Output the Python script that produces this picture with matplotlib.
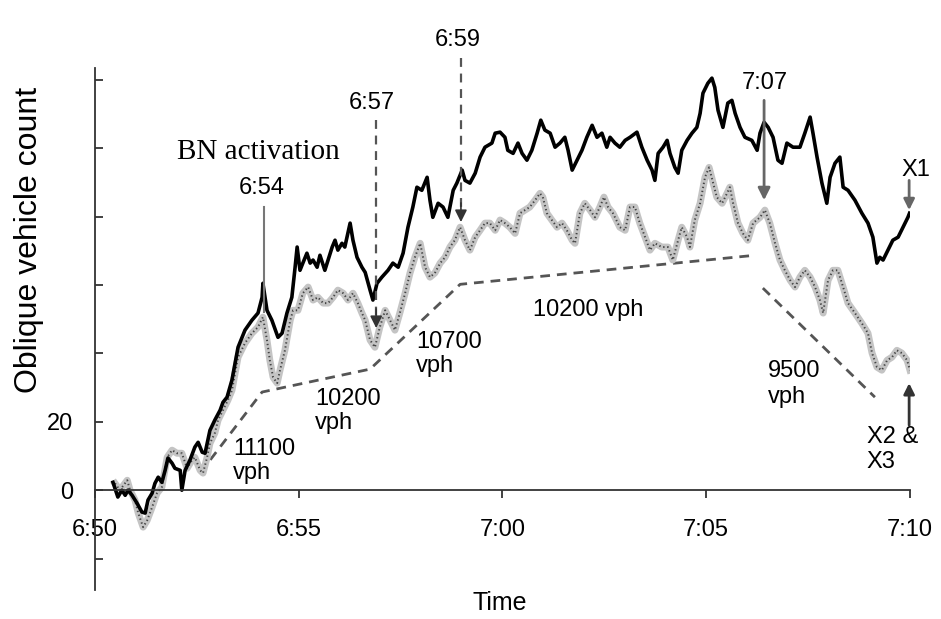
import matplotlib.pyplot as plt

plt.rcParams['font.family'] = ['Liberation Sans', 'DejaVu Sans']

# x axis: minutes after 6:50
time_ticks = [0, 5, 10, 15, 20]
time_labels = ['6:50', '6:55', '7:00', '7:05', '7:10']
count_ticks = [-20, 0, 20, 40, 60, 80, 100, 120]
count_labels = ['', '0', '20', '', '', '', '', '']

# X1 (black)
x1_t = [0.44, 0.56, 0.66, 0.74, 0.81, 0.91, 1.03, 1.15, 1.23, 1.30, 1.40, 1.47, 1.55, 1.64,
        1.72, 1.79, 1.89, 1.96, 2.09, 2.13, 2.21, 2.33, 2.45, 2.53, 2.63, 2.70, 2.82, 2.94,
        3.07, 3.14, 3.24, 3.36, 3.51, 3.68, 3.85, 4.00, 4.10, 4.12, 4.22, 4.34, 4.49, 4.59,
        4.71, 4.83, 4.91, 4.96, 5.03, 5.10, 5.20, 5.28, 5.35, 5.45, 5.52, 5.64, 5.72, 5.82,
        5.89, 5.96, 6.06, 6.13, 6.26, 6.33, 6.43, 6.55, 6.63, 6.75, 6.82, 6.92, 7.04, 7.19,
        7.31, 7.44, 7.56, 7.68, 7.80, 7.90, 8.02, 8.15, 8.22, 8.29, 8.42, 8.54, 8.66, 8.79,
        8.88, 9.01, 9.08, 9.20, 9.33, 9.45, 9.57, 9.74, 9.82, 9.94, 10.06, 10.13, 10.26,
        10.38, 10.48, 10.60, 10.72, 10.85, 10.94, 11.04, 11.17, 11.29, 11.41, 11.53, 11.61,
        11.71, 11.83, 11.95, 12.07, 12.20, 12.32, 12.44, 12.56, 12.64, 12.76, 12.88, 13.01,
        13.13, 13.30, 13.42, 13.55, 13.67, 13.74, 13.82, 13.94, 14.04, 14.11, 14.23, 14.31,
        14.40, 14.53, 14.65, 14.77, 14.85, 14.92, 15.04, 15.14, 15.21, 15.29, 15.41, 15.53,
        15.63, 15.71, 15.83, 15.95, 16.12, 16.25, 16.32, 16.42, 16.52, 16.64, 16.76, 16.86,
        16.98, 17.13, 17.30, 17.42, 17.55, 17.62, 17.72, 17.84, 17.96, 18.04, 18.16, 18.28,
        18.36, 18.48, 18.65, 18.82, 18.97, 19.09, 19.19, 19.26, 19.34, 19.46, 19.58, 19.71,
        19.83, 19.95, 19.99]
x1_n = [2.3, -2.0, 0.0, -1.5, 0.0, -1.5, -3.8, -6.4, -6.7, -2.9, -0.9, 2.0, 3.8, 2.3,
        5.8, 9.4, 7.9, 6.4, 5.8, 0.0, 5.8, 8.8, 12.6, 14.0, 11.1, 10.8, 17.5, 20.5,
        23.4, 25.7, 27.2, 32.2, 41.8, 46.8, 49.7, 51.8, 56.4, 60.5, 52.6, 49.7, 44.7, 45.9,
        51.8, 56.4, 65.2, 71.1, 64.3, 66.4, 69.3, 66.4, 67.3, 65.2, 68.7, 64.3, 67.3, 71.1,
        73.1, 70.2, 72.2, 71.1, 78.1, 73.1, 68.1, 65.2, 63.7, 58.5, 55.6, 60.5, 62.3, 64.3,
        66.4, 65.2, 69.3, 76.9, 82.8, 88.6, 87.7, 91.5, 84.8, 79.8, 83.9, 82.8, 79.8, 87.7,
        89.8, 93.6, 90.6, 89.8, 92.7, 97.4, 100.3, 101.5, 104.4, 104.7, 103.2, 99.4, 98.5,
        101.5, 98.5, 96.5, 99.4, 104.4, 108.2, 105.3, 104.4, 100.3, 101.5, 103.2, 99.4,
        93.6, 96.5, 99.4, 103.2, 106.7, 103.2, 104.4, 100.3, 103.2, 101.5, 100.3, 102.3,
        103.2, 104.7, 100.3, 96.5, 93.6, 90.6, 98.5, 100.3, 102.3, 98.5, 94.4, 92.7,
        99.4, 102.3, 104.4, 106.1, 110.2, 116.1, 119.0, 120.5, 117.8, 111.1, 106.1, 113.2,
        114.0, 110.2, 106.1, 103.2, 102.3, 99.4, 104.4, 107.6, 106.1, 103.2, 96.5, 95.6,
        101.5, 100.3, 100.3, 104.4, 109.1, 104.4, 97.4, 89.8, 83.9, 91.5, 95.6, 97.4,
        88.6, 87.7, 84.8, 81.0, 78.1, 74.0, 66.4, 68.1, 67.3, 70.2, 73.1, 74.0,
        76.9, 79.8, 81.0]

# X2 & X3 (grey)
x23_t = [0.49, 0.61, 0.79, 0.86, 0.98, 1.06, 1.18, 1.28, 1.40, 1.52, 1.64, 1.77, 1.89, 2.01,
         2.13, 2.26, 2.38, 2.45, 2.58, 2.65, 2.75, 2.82, 2.94, 3.02, 3.14, 3.26, 3.36, 3.51,
         3.68, 3.85, 4.00, 4.12, 4.22, 4.29, 4.37, 4.47, 4.54, 4.66, 4.79, 4.86, 4.98, 5.10,
         5.23, 5.35, 5.47, 5.60, 5.72, 5.84, 5.96, 6.09, 6.21, 6.33, 6.45, 6.55, 6.63, 6.75,
         6.87, 6.99, 7.12, 7.24, 7.36, 7.48, 7.61, 7.73, 7.85, 7.98, 8.10, 8.22, 8.34, 8.47,
         8.59, 8.71, 8.83, 8.96, 9.08, 9.20, 9.33, 9.45, 9.57, 9.69, 9.82, 9.94, 10.06, 10.18,
         10.31, 10.43, 10.55, 10.67, 10.80, 10.92, 10.99, 11.09, 11.21, 11.34, 11.46, 11.58,
         11.71, 11.78, 11.90, 12.02, 12.15, 12.27, 12.39, 12.49, 12.59, 12.71, 12.88, 13.01,
         13.13, 13.25, 13.37, 13.50, 13.62, 13.74, 13.91, 14.06, 14.18, 14.31, 14.40, 14.53,
         14.60, 14.72, 14.85, 14.97, 15.07, 15.17, 15.26, 15.39, 15.51, 15.58, 15.66, 15.78,
         15.90, 16.02, 16.15, 16.32, 16.44, 16.56, 16.69, 16.81, 16.93, 17.06, 17.18, 17.30,
         17.42, 17.55, 17.67, 17.79, 17.87, 17.99, 18.11, 18.23, 18.36, 18.48, 18.65, 18.82,
         18.97, 19.07, 19.19, 19.31, 19.44, 19.56, 19.68, 19.80, 19.93, 20.00]
x23_n = [2.0, 0.0, 2.9, 0.0, -2.9, -6.7, -10.8, -8.8, -5.0, -0.9, 0.9, 9.6, 11.7, 10.8,
         10.8, 6.4, 8.8, 9.6, 5.8, 5.0, 9.6, 13.7, 16.7, 20.5, 23.4, 26.3, 29.2, 38.9,
         43.0, 45.9, 47.7, 50.6, 43.9, 38.0, 33.0, 31.3, 35.1, 40.9, 49.7, 52.6, 52.6, 57.6,
         59.4, 55.6, 56.4, 54.7, 54.7, 56.4, 58.5, 57.6, 55.6, 57.6, 54.7, 51.8, 49.7, 43.9,
         41.8, 47.7, 52.6, 49.7, 46.8, 51.8, 57.6, 63.5, 68.1, 72.2, 65.2, 62.3, 63.5, 66.4,
         68.1, 71.1, 73.1, 76.9, 73.1, 70.2, 74.0, 76.0, 78.1, 78.1, 76.0, 79.0, 78.1, 76.9,
         75.1, 81.0, 81.9, 82.8, 84.8, 86.8, 85.7, 81.0, 79.0, 76.9, 78.1, 76.0,
         73.1, 72.2, 81.0, 83.9, 81.9, 79.8, 82.8, 85.7, 82.8, 81.0, 76.9, 76.0,
         82.8, 82.8, 78.1, 74.0, 70.2, 72.2, 71.1, 71.1, 67.3, 73.1, 76.9, 74.0,
         71.1, 79.0, 83.9, 91.5, 94.4, 89.8, 85.7, 83.9, 86.8, 88.6, 83.9, 78.1,
         75.1, 73.1, 78.1, 79.8, 81.9, 78.1, 72.2, 67.3, 64.3, 61.4, 59.4, 62.3,
         64.3, 62.3, 59.4, 55.6, 51.8, 61.4, 64.3, 64.3, 59.4, 54.7, 51.8, 48.8,
         45.9, 40.1, 36.0, 35.1, 38.0, 38.9, 40.9, 40.1, 38.0, 35.1]

# flow slopes (dashed)
slope_a_t = [2.58, 4.10, 6.75, 8.96, 16.2]
slope_a_n = [5.0, 28.7, 35.4, 60.2, 68.7]
slope_b_t = [16.39, 19.14]
slope_b_n = [59.1, 27.2]

fig = plt.figure(figsize=(9.41, 6.19), dpi=100)
ax = fig.add_axes([0.101, 0.0468, 0.866, 0.843])

ax.plot(slope_a_t, slope_a_n, color='#555555', lw=2, ls=(0, (3.5, 2.5)))
ax.plot(slope_b_t, slope_b_n, color='#555555', lw=2, ls=(0, (3.5, 2.5)))

# grey band drawn as a dotted texture
ax.plot(x23_t, x23_n, color='#c4c4c4', lw=5)
ax.plot(x23_t, x23_n, color='#444444', lw=1.4, ls=(0, (0.7, 1.4)))
ax.plot(x1_t, x1_n, color='black', lw=2.6)

ax.set_xlim(0, 20)
ax.set_ylim(-29.2, 123.4)
ax.set_xticks(time_ticks)
ax.set_xticklabels(time_labels)
ax.set_yticks(count_ticks)
ax.set_yticklabels(count_labels)
ax.tick_params(axis='x', direction='out', length=6, width=1.3, pad=15, labelsize=17, colors='#333333', labelcolor='black')
ax.tick_params(axis='y', direction='in', length=6, width=1.3, pad=16, labelsize=17, colors='#333333', labelcolor='black')
for s in ['top', 'right']:
    ax.spines[s].set_visible(False)
ax.spines['bottom'].set_position(('data', 0))
ax.spines['bottom'].set_color('#333333')
ax.spines['left'].set_color('#333333')
ax.spines['bottom'].set_linewidth(1.3)
ax.spines['left'].set_linewidth(1.3)

acol = '#555555'
head = dict(arrowstyle='-|>', color='#333333', lw=1.2, mutation_scale=18, shrinkA=0, shrinkB=0)

# 6:54 activation
ax.plot([4.15, 4.15], [82.8, 52.0], color='#777777', lw=1.5)
ax.text(4.02, 98.8, 'BN activation', family='Liberation Serif', fontsize=21, ha='center', va='center')
ax.text(4.10, 88.3, '6:54', fontsize=17, ha='center', va='center')

# 6:57
ax.plot([6.90, 6.90], [108.2, 51.0], color=acol, lw=1.6, ls=(0, (4, 3)))
ax.annotate('', xy=(6.90, 47.4), xytext=(6.90, 53.0), arrowprops=head)
ax.text(6.80, 113.2, '6:57', fontsize=17, ha='center', va='center')

# 6:59
ax.plot([8.98, 8.98], [126.3, 82.0], color=acol, lw=1.6, ls=(0, (4, 3)), clip_on=False)
ax.annotate('', xy=(8.98, 78.4), xytext=(8.98, 84.0), arrowprops=head)
ax.text(8.91, 131.6, '6:59', fontsize=17, ha='center', va='center')

# 7:07
ax.annotate('', xy=(16.42, 84.8), xytext=(16.42, 114.0),
            arrowprops=dict(arrowstyle='-|>', color='#666666', lw=2, mutation_scale=18, shrinkA=0, shrinkB=0))
ax.text(16.44, 119.0, '7:07', fontsize=17, ha='center', va='center')

# detectors
ax.annotate('', xy=(19.98, 81.9), xytext=(19.98, 90.6),
            arrowprops=dict(arrowstyle='-|>', color='#666666', lw=2, mutation_scale=16, shrinkA=0, shrinkB=0))
ax.text(20.15, 93.6, 'X1', fontsize=17, ha='center', va='center')
ax.annotate('', xy=(19.98, 31.3), xytext=(19.98, 19.0),
            arrowprops=dict(arrowstyle='-|>', color='#333333', lw=2, mutation_scale=16, shrinkA=0, shrinkB=0))
ax.text(18.94, 18.7, 'X2 &\nX3', fontsize=17, ha='left', va='top', linespacing=1.15)

# flow labels
ax.text(3.39, 15.2, '11100\nvph', fontsize=17, ha='left', va='top', linespacing=1.1)
ax.text(5.40, 29.8, '10200\nvph', fontsize=17, ha='left', va='top', linespacing=1.1)
ax.text(7.88, 46.5, '10700\nvph', fontsize=17, ha='left', va='top', linespacing=1.1)
ax.text(12.10, 52.6, '10200 vph', fontsize=17, ha='center', va='center')
ax.text(16.52, 38.0, '9500\nvph', fontsize=17, ha='left', va='top', linespacing=1.25)

fig.text(29 / 941, 1 - 240 / 619, 'Oblique vehicle count', rotation=90, fontsize=23, ha='center', va='center')
fig.text(500 / 941, 1 - 603 / 619, 'Time', fontsize=18, ha='center', va='center')

fig.savefig('out.png', dpi=100)
